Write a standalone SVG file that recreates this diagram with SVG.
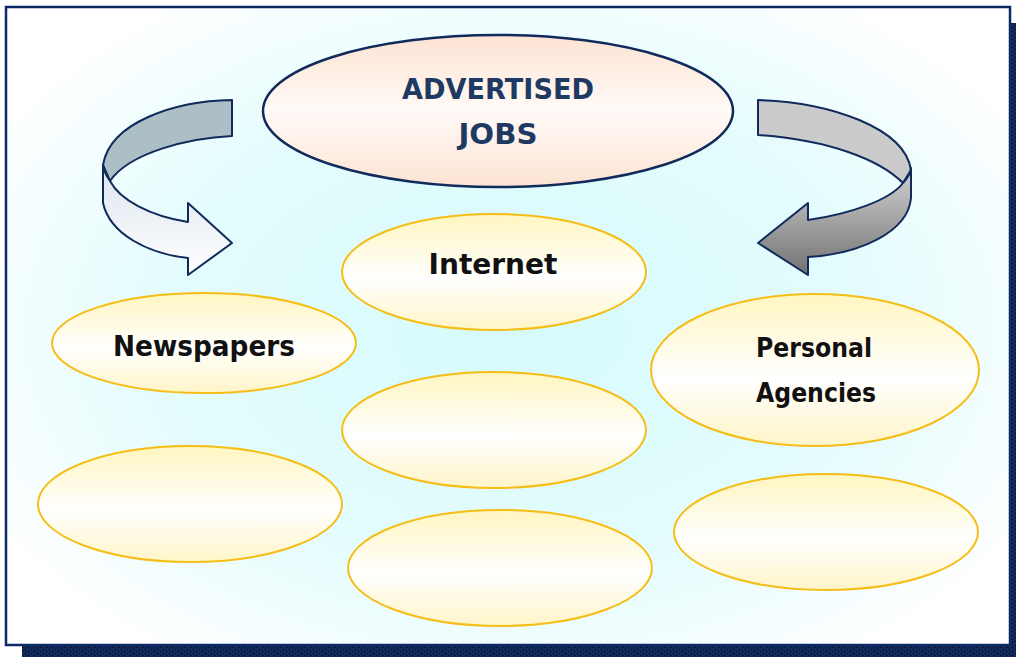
<svg xmlns="http://www.w3.org/2000/svg" width="1016" height="657" viewBox="0 0 1016 657">
  <defs>
    <style>
      .bubble { stroke: #f6bd16; stroke-width: 2; fill: url(#bubbleFill); }
      .lbl { font-family: "DejaVu Sans", "Liberation Sans", sans-serif; font-weight: bold; fill: #111; text-anchor: middle; }
      .title { font-family: "DejaVu Sans", "Liberation Sans", sans-serif; font-weight: bold; fill: #1f3a62; text-anchor: middle; }
      .ribbon { stroke: #102a5c; stroke-width: 2; stroke-linejoin: round; }
    </style>
    <radialGradient id="bg" cx="510" cy="330" r="600" gradientUnits="userSpaceOnUse" gradientTransform="translate(510 330) scale(1 0.66) translate(-510 -330)">
      <stop offset="0" stop-color="#d6fbfc"/>
      <stop offset="0.6" stop-color="#e4fcfd"/>
      <stop offset="1" stop-color="#ffffff"/>
    </radialGradient>
    <linearGradient id="bubbleFill" x1="0" y1="0" x2="0" y2="1">
      <stop offset="0" stop-color="#fff6c0"/>
      <stop offset="0.55" stop-color="#ffffff"/>
      <stop offset="1" stop-color="#fff5c8"/>
    </linearGradient>
    <linearGradient id="titleFill" x1="0" y1="0" x2="0" y2="1">
      <stop offset="0" stop-color="#fde3d3"/>
      <stop offset="0.5" stop-color="#fffaf7"/>
      <stop offset="1" stop-color="#fde3d3"/>
    </linearGradient>
    <linearGradient id="leftFront" x1="0" y1="163" x2="0" y2="275" gradientUnits="userSpaceOnUse">
      <stop offset="0" stop-color="#dbe4ee"/>
      <stop offset="1" stop-color="#ffffff"/>
    </linearGradient>
    <linearGradient id="rightFront" x1="0" y1="168" x2="0" y2="275" gradientUnits="userSpaceOnUse">
      <stop offset="0" stop-color="#d2d2d2"/>
      <stop offset="1" stop-color="#727272"/>
    </linearGradient>
    <pattern id="shadowDots" width="6" height="4" patternUnits="userSpaceOnUse">
      <rect width="6" height="4" fill="#10295a"/>
      <rect x="1" y="1" width="1" height="1" fill="#02070f"/>
      <rect x="4" y="3" width="1" height="1" fill="#02070f"/>
    </pattern>
  </defs>

  <!-- page frame with drop shadow -->
  <rect x="0" y="0" width="1016" height="657" fill="#ffffff"/>
  <rect x="22" y="23" width="1004" height="644" fill="url(#shadowDots)"/>
  <rect x="6" y="7" width="1004" height="638" fill="url(#bg)" stroke="#0e2a66" stroke-width="2.5"/>

  <!-- curved arrows -->
  <g id="connectors">
    <g id="arrow-left">
      <path class="ribbon" fill="#adbfc6" d="M232,100 C175,101 110,122 103,165 L110,181 C130,152 190,138 232,136 Z"/>
      <path class="ribbon" fill="url(#leftFront)" d="M103,165 L103,203 C110,235 150,254 188,258 L188,275 L232,243 L188,203 L188,222 C150,216 120,200 110,181 Q104,173 103,165 Z"/>
    </g>
    <g id="arrow-right">
      <path class="ribbon" fill="#cbcbcb" d="M758,100 C830,102 905,128 911,170 L903,183 C880,160 830,140 758,135 Z"/>
      <path class="ribbon" fill="url(#rightFront)" d="M808,220 C850,214 890,200 903,183 Q910,176 911,168 L911,198 C908,232 860,254 808,257 L808,275 L758,243 L808,203 Z"/>
    </g>
  </g>

  <g id="node-title">
    <ellipse cx="498" cy="111" rx="235" ry="76" fill="url(#titleFill)" stroke="#102a5c" stroke-width="2.5"/>
    <text class="title" x="498" y="99" font-size="29" textLength="192" lengthAdjust="spacingAndGlyphs">ADVERTISED</text>
    <text class="title" x="498" y="144" font-size="29" textLength="79" lengthAdjust="spacingAndGlyphs">JOBS</text>
  </g>

  <g id="node-internet">
    <ellipse class="bubble" cx="494" cy="272" rx="152" ry="58"/>
    <text class="lbl" x="493" y="274" font-size="29" textLength="129" lengthAdjust="spacingAndGlyphs">Internet</text>
  </g>

  <g id="node-newspapers">
    <ellipse class="bubble" cx="204" cy="343" rx="152" ry="50"/>
    <text class="lbl" x="204" y="356" font-size="29" textLength="182" lengthAdjust="spacingAndGlyphs">Newspapers</text>
  </g>

  <g id="node-agencies">
    <ellipse class="bubble" cx="815" cy="370" rx="164" ry="76"/>
    <text class="lbl" x="814" y="357" font-size="27" textLength="116" lengthAdjust="spacingAndGlyphs">Personal</text>
    <text class="lbl" x="816" y="402" font-size="27" textLength="120" lengthAdjust="spacingAndGlyphs">Agencies</text>
  </g>

  <g id="node-center-2">
    <ellipse class="bubble" cx="494" cy="430" rx="152" ry="58"/>
  </g>
  <g id="node-left-2">
    <ellipse class="bubble" cx="190" cy="504" rx="152" ry="58"/>
  </g>
  <g id="node-center-3">
    <ellipse class="bubble" cx="500" cy="568" rx="152" ry="58"/>
  </g>
  <g id="node-right-2">
    <ellipse class="bubble" cx="826" cy="532" rx="152" ry="58"/>
  </g>
</svg>
